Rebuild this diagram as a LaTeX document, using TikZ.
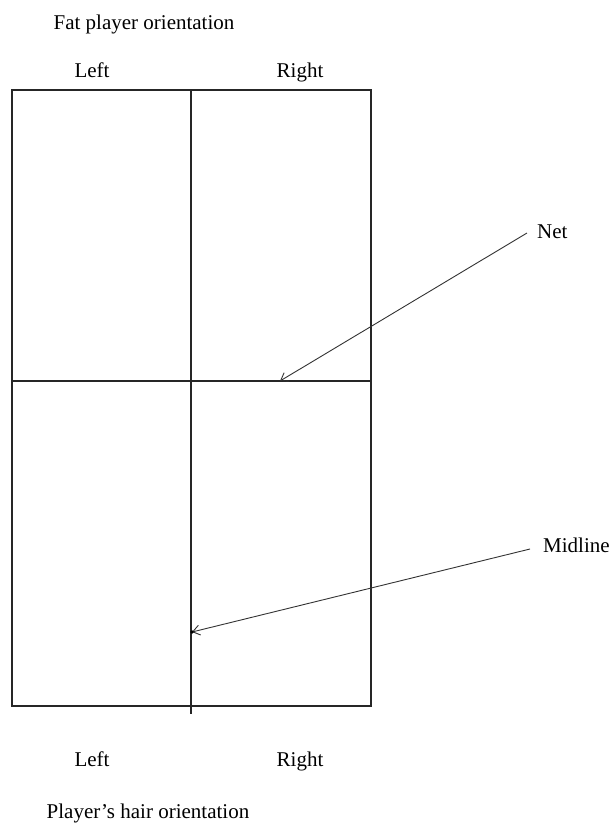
\documentclass[tikz,border=0pt]{standalone}
\usepackage{fontspec}
\setmainfont{Liberation Serif}
\usetikzlibrary{arrows.meta}
\begin{document}
\begin{tikzpicture}[x=1pt,y=-1pt,
  lbl/.style={inner sep=0pt,anchor=base,font=\fontsize{21}{25}\selectfont},
  court/.style={line width=1.4pt,draw=black!85},
  pointer/.style={line width=0.9pt,draw=black!80,-{Straight Barb[length=7pt,width=10pt,line width=0.9pt]}}]
\useasboundingbox[fill=white] (0,0) rectangle (614,823);
% texts
\node[lbl] (title) at (144,29) {Fat player orientation};
\node[lbl] (lt) at (92,77) {Left};
\node[lbl] (rt) at (300,77) {Right};
\node[lbl] (lb) at (92,766) {Left};
\node[lbl] (rb) at (300,766) {Right};
\node[lbl] (bottomtitle) at (148,818) {Player’s hair orientation};
\node[lbl,anchor=base west] (net) at (537,238) {Net};
\node[lbl,anchor=base west] (mid) at (543,552) {Midline};
% court
\coordinate (tl) at (12,90);
\coordinate (br) at (371,706);
\coordinate (mtop) at (191,90);
\coordinate (mbot) at (191,714);
\coordinate (nl) at (12,381);
\coordinate (nr) at (371,381);
\draw[court] (tl) rectangle (br);
\draw[court] (mtop) -- (mbot);
\draw[court] (nl) -- (nr);
% pointers
\coordinate (netstart) at (527,233);
\coordinate (nettip) at (280,381);
\coordinate (midstart) at (530,549);
\coordinate (midtip) at (192,632);
\draw[pointer] (netstart) -- (nettip);
\draw[pointer] (midstart) -- (midtip);
\fill (midtip) circle (1.8pt);
\end{tikzpicture}
\end{document}
